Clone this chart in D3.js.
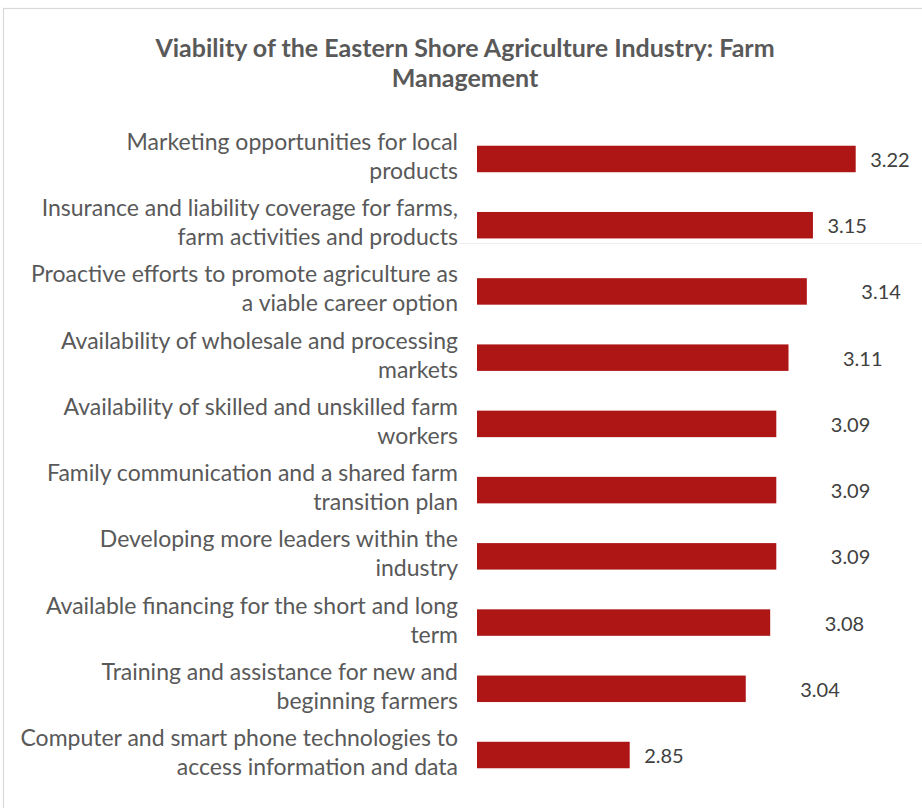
<!DOCTYPE html>
<html>
<head>
<meta charset="utf-8">
<script src="https://cdn.jsdelivr.net/npm/d3@7"></script>
<style>
  html, body { margin: 0; padding: 0; background: #fff; }
  svg { display: block; }
</style>
</head>
<body>
<svg id="chart" width="922" height="808"></svg>
<script>
// Survey items (line break marks where each label wraps) and mean ratings
const categories = [
  "Marketing opportunities for local\nproducts",
  "Insurance and liability coverage for farms,\nfarm activities and products",
  "Proactive efforts to promote agriculture as\na viable career option",
  "Availability of wholesale and processing\nmarkets",
  "Availability of skilled and unskilled farm\nworkers",
  "Family communication and a shared farm\ntransition plan",
  "Developing more leaders within the\nindustry",
  "Available financing for the short and long\nterm",
  "Training and assistance for new and\nbeginning farmers",
  "Computer and smart phone technologies to\naccess information and data"
];
const values = [3.22, 3.15, 3.14, 3.11, 3.09, 3.09, 3.09, 3.08, 3.04, 2.85];
const axisDomain = [2.6, 3.3];
const titleLines = [
  "Viability of the Eastern Shore Agriculture Industry: Farm",
  "Management"
];

const data = categories.map((c, i) => ({ label: c, value: values[i] }));

const svg = d3.select("#chart");
const W = 922, H = 808;
const font = "Lato, 'Open Sans', sans-serif";

// chart frame
svg.append("rect")
  .attr("x", 3.5).attr("y", 8.5)
  .attr("width", W + 20).attr("height", H + 20)
  .attr("fill", "#fff")
  .attr("stroke", "#d9d9d9").attr("stroke-width", 1.2);

// faint rule on the right
svg.append("line")
  .attr("x1", 460).attr("x2", W)
  .attr("y1", 243.5).attr("y2", 243.5)
  .attr("stroke", "#ececec").attr("stroke-width", 1);

// title
svg.append("text")
  .attr("x", 465).attr("y", 57)
  .attr("text-anchor", "middle")
  .attr("font-family", font).attr("font-weight", 700)
  .attr("font-size", 25).attr("fill", "#595959")
  .selectAll("tspan").data(titleLines).join("tspan")
  .attr("x", 465).attr("dy", (d, i) => i === 0 ? 0 : 30)
  .text(d => d);

const x = d3.scaleLinear().domain(axisDomain).range([477, 477 + 0.7 * 610.8]);
const y = d3.scaleBand().domain(d3.range(data.length)).range([106, 808]).paddingInner(0.6).paddingOuter(0.6);

// bars
svg.append("g").selectAll("rect").data(data).join("rect")
  .attr("x", x(axisDomain[0]))
  .attr("y", (d, i) => y(i))
  .attr("width", d => x(d.value) - x(axisDomain[0]))
  .attr("height", y.bandwidth())
  .attr("fill", "#ae1616");

// category labels, right-aligned against the bars
const labels = svg.append("g").selectAll("text").data(data).join("text")
  .attr("text-anchor", "end")
  .attr("font-family", font)
  .attr("font-size", 23)
  .attr("fill", "#595959")
  .attr("y", (d, i) => y(i) + y.bandwidth() / 2 - 9);
labels.selectAll("tspan").data(d => d.label.split("\n")).join("tspan")
  .attr("x", 458)
  .attr("dy", (d, i) => i === 0 ? 0 : 29)
  .text(d => d);

// value labels; most sit further out from the bar end
const farLabel = [false, false, true, true, true, true, true, true, true, false];
svg.append("g").selectAll("text").data(data).join("text")
  .attr("x", (d, i) => x(d.value) + (farLabel[i] ? 54.5 : 14.5))
  .attr("y", (d, i) => y(i) + y.bandwidth() / 2 + 8)
  .attr("font-family", font)
  .attr("font-size", 20)
  .attr("fill", "#404040")
  .text(d => d.value.toFixed(2));
</script>
</body>
</html>
